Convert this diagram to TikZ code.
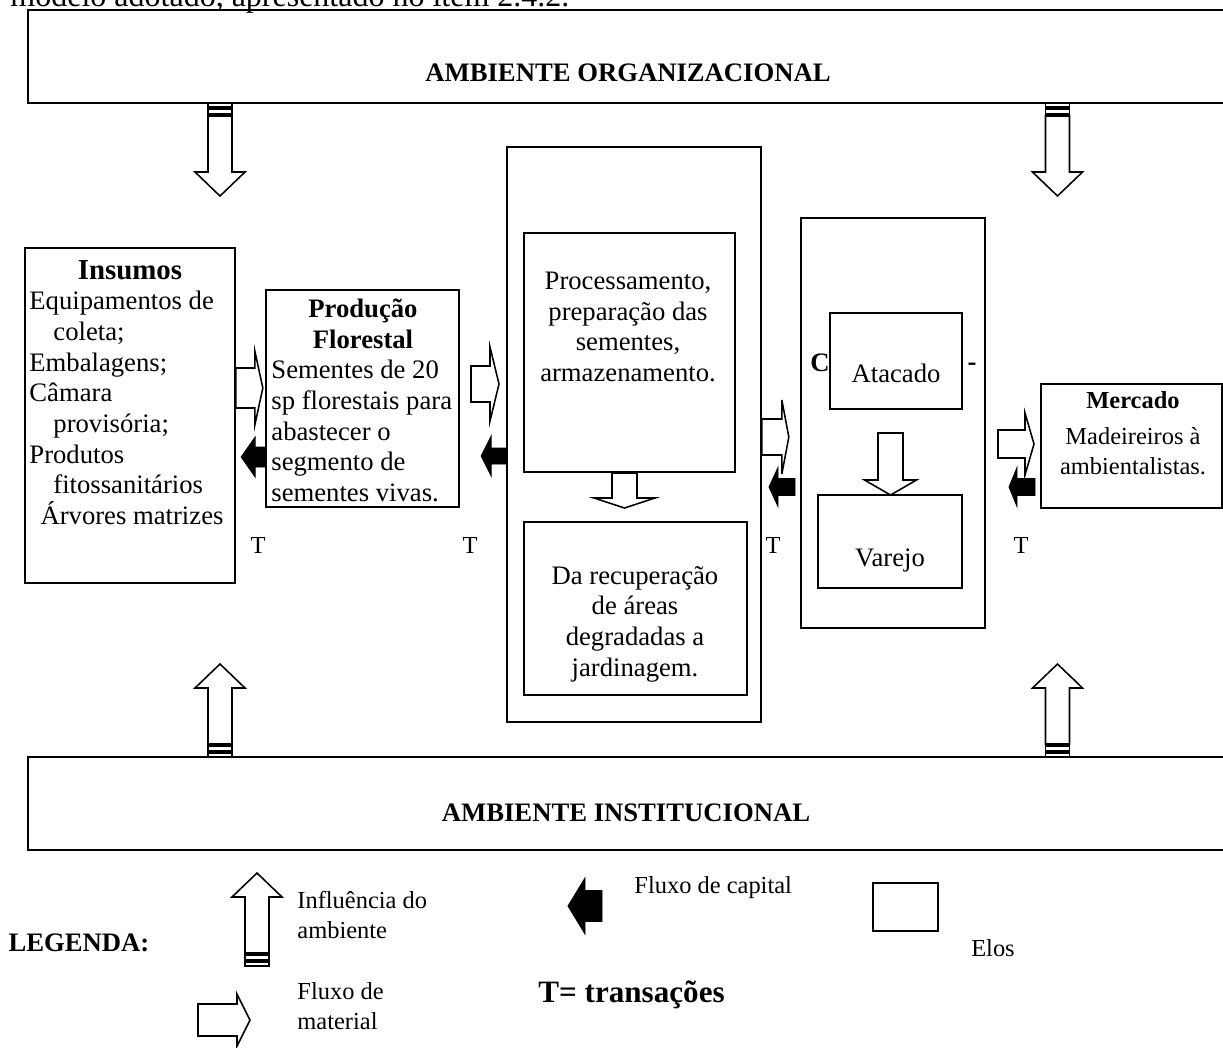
\documentclass[tikz,border=0pt]{standalone}
\usepackage{fontspec}
\setmainfont{Liberation Serif}
\usetikzlibrary{fit}

\newcommand{\ftext}{\fontsize{12}{13.8}\selectfont}
\newcommand{\fsmall}{\fontsize{11}{13.5}\selectfont}

% seta de material: ponto inicial, corpo, cabeca, meia altura corpo, meia altura cabeca
\newcommand{\matflow}[5]{%
  \draw[matflow] (#1) ++(0,-#4) -- ++(#2,0) -- ++(0,#4-#5) -- ++(#3,#5)
    -- ++(-#3,#5) -- ++(0,#4-#5) -- ++(-#2,0) -- cycle;}
% seta de capital (preta, para a esquerda)
\newcommand{\capflow}[5]{%
  \draw[capflow] (#1) ++(0,-#4) -- ++(-#2,0) -- ++(0,#4-#5) -- ++(-#3,#5)
    -- ++(#3,#5) -- ++(0,#4-#5) -- ++(#2,0) -- cycle;}
% seta vertical para baixo dentro dos elos
\newcommand{\downflow}[5]{%
  \draw[matflow] (#1) ++(-#4,0) -- ++(0,#2) -- ++(#4-#5,0) -- ++(#5,#3)
    -- ++(#5,-#3) -- ++(#4-#5,0) -- ++(0,-#2) -- cycle;}
% influencia do ambiente: 1 = para baixo, -1 = para cima
\newcommand{\envflow}[2]{%
  \draw[envflow] (#1) ++(-12,0) rectangle ++(24,4*#2);
  \draw[envflow] (#1) ++(-12,6*#2) rectangle ++(24,5*#2);
  \draw[envflow] (#1) ++(-12,13*#2) -- ++(0,56*#2) -- ++(-13,0) -- ++(25,24*#2)
    -- ++(25,-24*#2) -- ++(-13,0) -- ++(0,-56*#2) -- cycle;}

\begin{document}
\begin{tikzpicture}[
  x={(0.45pt,0pt)},
  y={(0pt,-0.45pt)},
  box/.style={draw, line width=0.75pt, inner sep=0pt},
  lbl/.style={inner sep=0pt, font=\ftext},
  sml/.style={inner sep=0pt, font=\fsmall},
  matflow/.style={draw, line width=0.7pt, fill=white},
  capflow/.style={draw, line width=0.4pt, fill=black},
  envflow/.style={draw, line width=0.7pt, fill=white},
]
\useasboundingbox (0,0) rectangle (1223,1047);
\clip (0,0) rectangle (1223,1047);

% texto da pagina cortado
\node[lbl, font=\fontsize{14.4}{16}\selectfont, anchor=base west] (intro) at (10,6)
  {modelo adotado, apresentado no item 2.4.2.};

% ambientes
\node[box, fit={(28,10) (1240,103)}] (org) {};
\node[lbl, font=\ftext\bfseries] (orgtxt) at (628,73) {AMBIENTE ORGANIZACIONAL};
\node[box, fit={(28,757) (1240,850)}] (inst) {};
\node[lbl, font=\ftext\bfseries] (insttxt) at (626,813) {AMBIENTE INSTITUCIONAL};

% elos da cadeia
\node[box, fit={(25,248) (235,583)}] (ins) {};
\node[lbl, font=\fontsize{13}{15}\bfseries] (instit) at (130,270) {Insumos};
\node[lbl, align=left, anchor=west] (insbody) at (29,408)
  {Equipamentos de\\\hspace*{10.8pt}coleta;\\Embalagens;\\Câmara\\
   \hspace*{10.8pt}provisória;\\Produtos\\\hspace*{10.8pt}fitossanitários\\
   \hspace*{5pt}Árvores matrizes};

\node[box, fit={(266,290) (459,507)}] (prod) {};
\node[lbl, font=\ftext\bfseries, align=center] (prodtit) at (363,324) {Produção\\Florestal};
\node[lbl, align=left, anchor=west] (prodbody) at (271,431)
  {Sementes de 20\\sp florestais para\\abastecer o\\segmento de\\sementes vivas.};

\node[box, fit={(507,147) (761,722)}] (proc) {};
\node[box, fit={(524,233) (735,472)}] (prep) {};
\node[lbl, align=center] (preptxt) at (628,327)
  {Processamento,\\preparação das\\sementes,\\armazenamento.};
\node[box, fit={(524,522) (747,695)}] (recup) {};
\node[lbl, align=center] (recuptxt) at (635,624)
  {Da recuperação\\de áreas\\degradadas a\\jardinagem.};

\node[box, fit={(801,218) (985,628)}] (com) {};
\node[box, fit={(830,313) (962,409)}] (atac) {};
\node[lbl] (atactxt) at (896,373) {Atacado};
\node[box, fit={(818,495) (962,588)}] (varejo) {};
\node[lbl] (varejotxt) at (890,560) {Varejo};
\node[lbl, font=\ftext\bfseries] (cletra) at (820,363) {C};
\node[lbl, font=\ftext\bfseries] (traco) at (972,367) {-};

\node[box, fit={(1041,384) (1222,508)}] (merc) {};
\node[sml, font=\fsmall\bfseries] (merctit) at (1133,400) {Mercado};
\node[sml, align=center] (mercbody) at (1133,451) {Madeireiros à\\ambientalistas.};

% fluxos de material
\matflow{ins.east |- 0,388}{19}{8}{20}{37}
\matflow{471,384}{19}{9}{18}{37}
\matflow{proc.east |- 0,437}{20}{7}{18}{37}
\matflow{998,444}{27}{9}{14}{31}
\downflow{624.5,473}{25}{10}{12.5}{30.5}
\downflow{890.5,433}{47}{15}{12.5}{26}

% fluxos de capital
\capflow{prod.west |- 0,457}{10}{14}{10}{20}
\capflow{proc.west |- 0,456}{15}{10}{8}{20}
\capflow{795,487}{17}{9}{8.5}{19.5}
\capflow{1035,487}{18}{8}{8.5}{19.5}

% transacoes
\foreach \tx/\tn in {258/t1, 470/t2, 773/t3, 1021/t4}
  \node[sml] (\tn) at (\tx,545) {T};

% influencia dos ambientes
\envflow{220,103}{1}
\envflow{1057.5,103}{1}
\envflow{220,757}{-1}
\envflow{1057.5,757}{-1}

% legenda
\node[lbl, font=\ftext\bfseries] (leg) at (79,943) {LEGENDA:};
\envflow{257,966}{-1}
\node[sml, align=left, anchor=west] (leginf) at (297,915) {Influência do\\ambiente};
\matflow{198,1020}{39}{13}{16}{26}
\node[sml, align=left, anchor=west] (legmat) at (297,1006) {Fluxo de\\material};
\capflow{602,906}{17}{17}{15.5}{28}
\node[sml, anchor=west] (legcap) at (634,888) {Fluxo de capital};
\node[box, fit={(873,883) (938,931)}] (legelo) {};
\node[sml] (legelotxt) at (993,948) {Elos};
\node[lbl, font=\fontsize{14}{16}\selectfont\bfseries, anchor=west] (legt) at (538,995) {T= transações};

\end{tikzpicture}
\end{document}
